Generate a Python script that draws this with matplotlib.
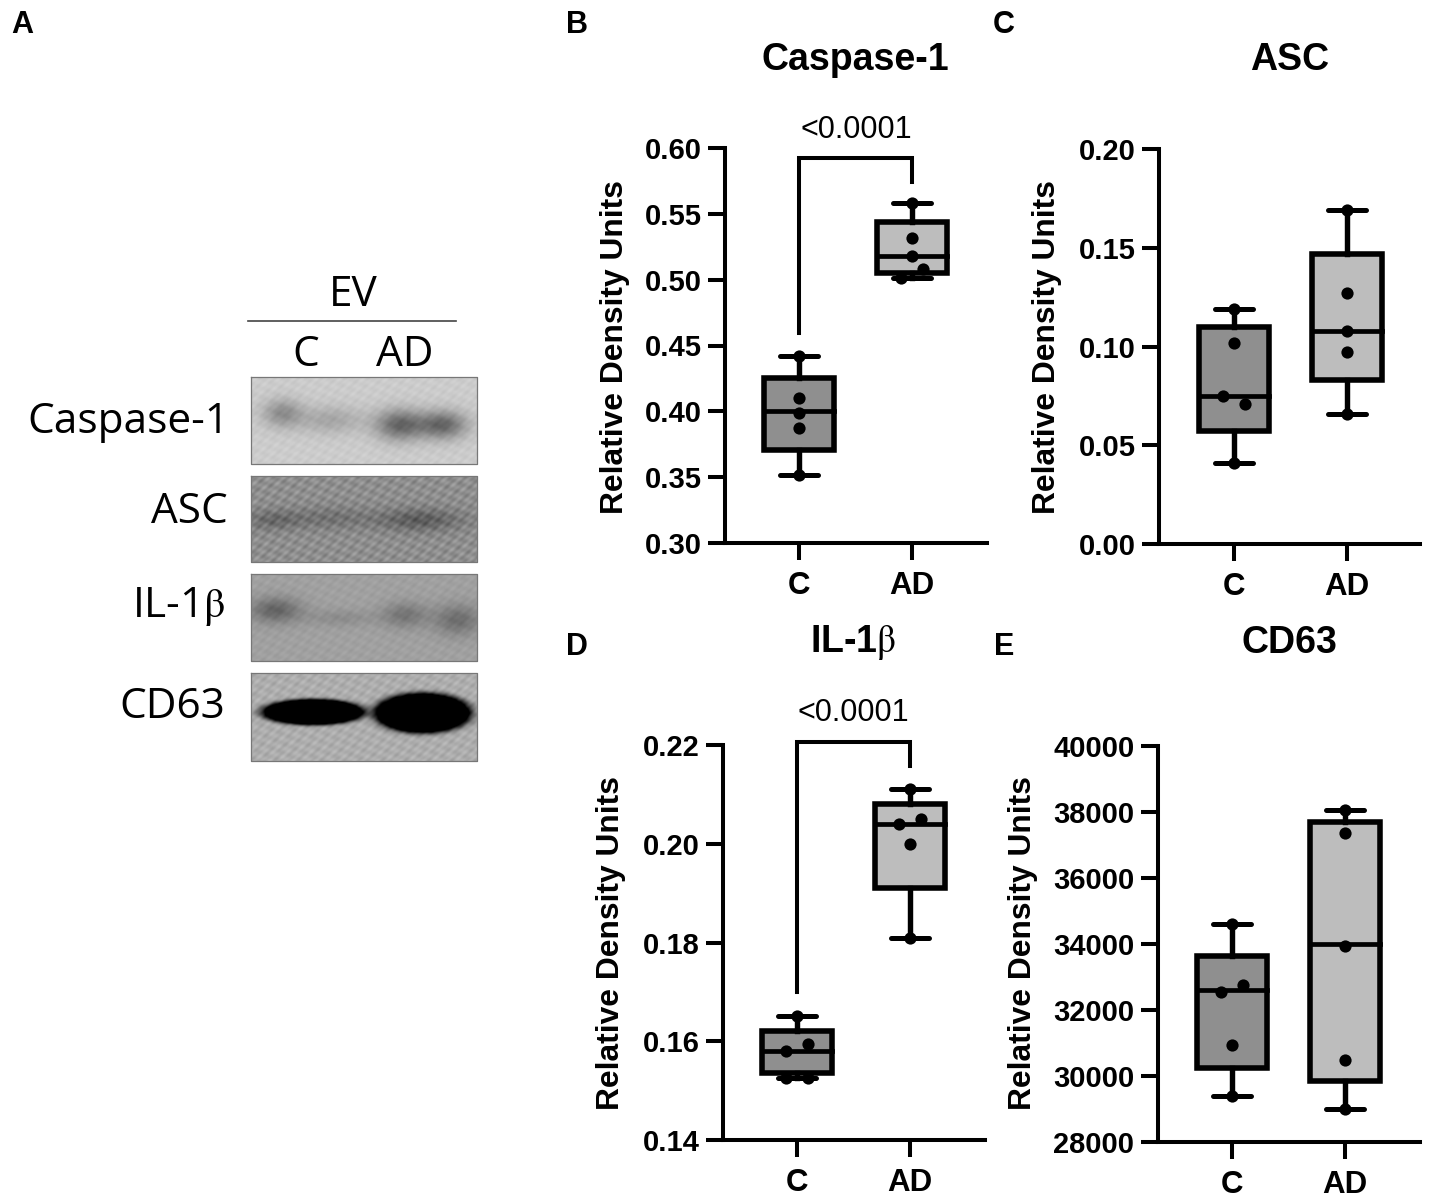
import numpy as np
import matplotlib
matplotlib.use("Agg")
import matplotlib.pyplot as plt

plt.rcParams['font.family'] = ['Liberation Sans', 'DejaVu Sans']
plt.rcParams['mathtext.fontset'] = 'stix'
plt.rcParams['mathtext.default'] = 'rm'

W, H = 1429, 1198

groups = ["C", "AD"]

# box values: low whisker, q1, median, q3, high whisker
caspase_c_box = [0.352, 0.371, 0.400, 0.425, 0.442]
caspase_ad_box = [0.501, 0.505, 0.518, 0.544, 0.558]
asc_c_box = [0.041, 0.057, 0.075, 0.110, 0.119]
asc_ad_box = [0.066, 0.083, 0.108, 0.147, 0.169]
il1b_c_box = [0.1525, 0.1535, 0.158, 0.162, 0.1652]
il1b_ad_box = [0.181, 0.191, 0.204, 0.208, 0.211]
cd63_c_box = [29400, 30250, 32600, 33650, 34600]
cd63_ad_box = [29000, 29850, 34000, 37700, 38050]

# single samples
caspase_c_pts = [0.352, 0.387, 0.399, 0.410, 0.442]
caspase_ad_pts = [0.501, 0.508, 0.518, 0.532, 0.558]
asc_c_pts = [0.041, 0.071, 0.075, 0.102, 0.119]
asc_ad_pts = [0.066, 0.097, 0.108, 0.127, 0.169]
il1b_c_pts = [0.1525, 0.1525, 0.158, 0.1595, 0.1652]
il1b_ad_pts = [0.181, 0.200, 0.204, 0.205, 0.211]
cd63_c_pts = [29400, 30950, 32550, 32750, 34600]
cd63_ad_pts = [29000, 30500, 33950, 37350, 38050]

# sideways shift of the samples, in box spacings
caspase_c_shift = [0, 0, 0, 0, 0]
caspase_ad_shift = [-0.1, 0.1, 0, 0, 0]
asc_c_shift = [0, 0.1, -0.1, 0, 0]
asc_ad_shift = [0, 0, 0, 0, 0]
il1b_c_shift = [-0.1, 0.1, -0.1, 0.1, 0]
il1b_ad_shift = [0, 0, -0.1, 0.1, 0]
cd63_c_shift = [0, 0, -0.1, 0.1, 0]
cd63_ad_shift = [0, 0, 0, 0, 0]

caspase_ticks = [0.30, 0.35, 0.40, 0.45, 0.50, 0.55, 0.60]
asc_ticks = [0.00, 0.05, 0.10, 0.15, 0.20]
il1b_ticks = [0.14, 0.16, 0.18, 0.20, 0.22]
cd63_ticks = [28000, 30000, 32000, 34000, 36000, 38000, 40000]


def px_axes(left, top, right, bottom):
    return fig.add_axes([left / W, 1 - bottom / H, (right - left) / W, (bottom - top) / H])


def draw_panel(rect, pos_c, pos_ad, ticks, fmt, box_c, box_ad, pts_c, pts_ad, shift_c, shift_ad):
    ax = px_axes(*rect)
    step = pos_ad - pos_c
    ax.set_xlim(1 - (pos_c - rect[0]) / step, 2 + (rect[2] - pos_ad) / step)
    ax.set_ylim(ticks[0], ticks[-1])
    stats = []
    for b in (box_c, box_ad):
        stats.append({'whislo': b[0], 'q1': b[1], 'med': b[2], 'q3': b[3], 'whishi': b[4], 'fliers': []})
    parts = ax.bxp(stats, positions=[1, 2], widths=0.625, capwidths=0.34, patch_artist=True,
                   showfliers=False,
                   boxprops=dict(linewidth=4.0, edgecolor='black'),
                   medianprops=dict(color='black', linewidth=3.4, solid_capstyle='projecting'),
                   whiskerprops=dict(color='black', linewidth=3.9),
                   capprops=dict(color='black', linewidth=3.6, solid_capstyle='round'))
    parts['boxes'][0].set_facecolor('#8f8f8f')
    parts['boxes'][1].set_facecolor('#bdbdbd')
    for k, (pts, sh) in enumerate([(pts_c, shift_c), (pts_ad, shift_ad)]):
        ax.plot([k + 1 + s for s in sh], pts, 'o', color='black', ms=8.8, mew=0, zorder=5, clip_on=False)
    for s in ['top', 'right']:
        ax.spines[s].set_visible(False)
    for s in ['left', 'bottom']:
        ax.spines[s].set_linewidth(2.9)
    ax.set_xticks([1, 2], groups)
    ax.set_yticks(ticks, [fmt.format(t) for t in ticks])
    ax.tick_params(axis='y', length=12, width=2.9, pad=5, labelsize=21)
    ax.tick_params(axis='x', length=12, width=2.9, pad=8.5, labelsize=22.5)
    for lab in ax.get_xticklabels() + ax.get_yticklabels():
        lab.set_fontweight('bold')
    return ax


def bracket(ax, y_left, y_top, y_right):
    ax.plot([1, 1, 2, 2], [y_left, y_top, y_top, y_right], color='black', lw=2.9,
            solid_joinstyle='miter', clip_on=False)


fig = plt.figure(figsize=(W / 100, H / 100), dpi=100, facecolor='white')

ax_b = draw_panel((725, 148, 987, 543), 799, 912, caspase_ticks, "{:.2f}", caspase_c_box, caspase_ad_box,
                  caspase_c_pts, caspase_ad_pts, caspase_c_shift, caspase_ad_shift)
ax_c = draw_panel((1159, 149, 1420, 544), 1234, 1347, asc_ticks, "{:.2f}", asc_c_box, asc_ad_box,
                  asc_c_pts, asc_ad_pts, asc_c_shift, asc_ad_shift)
ax_d = draw_panel((723, 745, 985, 1140), 797, 910, il1b_ticks, "{:.2f}", il1b_c_box, il1b_ad_box,
                  il1b_c_pts, il1b_ad_pts, il1b_c_shift, il1b_ad_shift)
ax_e = draw_panel((1158, 746, 1420, 1142), 1232, 1345, cd63_ticks, "{:.0f}", cd63_c_box, cd63_ad_box,
                  cd63_c_pts, cd63_ad_pts, cd63_c_shift, cd63_ad_shift)
bracket(ax_b, 0.4595, 0.5924, 0.574)
bracket(ax_d, 0.170, 0.2206, 0.2157)

# overlay in image pixels for labels and blots
ov = fig.add_axes([0, 0, 1, 1], zorder=-1)
ov.set_xlim(0, W)
ov.set_ylim(H, 0)
ov.axis('off')

for txt, x, y in [("A", 22, 25), ("B", 577, 25), ("C", 1004, 25), ("D", 577, 647), ("E", 1004, 647)]:
    ov.text(x, y, txt, fontsize=22, fontweight='bold', ha='center', va='center')
for txt, x, y in [("Caspase-1", 855, 60), ("ASC", 1290, 60), ("IL-1$\\beta$", 853, 643), ("CD63", 1289, 643)]:
    ov.text(x, y, txt, fontsize=27, fontweight='bold', ha='center', va='center')
for x, y in [(615, 347), (1047, 347), (611, 943), (1023, 943)]:
    ov.text(x, y, "Relative Density Units", fontsize=22.9, fontweight='bold', rotation=90,
            ha='center', va='center')
for x, y in [(856, 130), (853, 713)]:
    ov.text(x, y, "<0.0001", fontsize=22, ha='center', va='center')

# western blot strips: background grey, texture strength, sharpness, bands (x, y, sx, sy, darkness)
strip_rects = [(251, 377, 477, 464), (251, 476, 477, 562), (251, 574, 477, 661), (251, 673, 477, 761)]
strip_bg = [0.80, 0.56, 0.63, 0.68]
strip_tex = [0.010, 0.030, 0.010, 0.020]
strip_sharp = [1, 1, 1, 3]
strip_bands = [
    [(282, 413, 14, 10, 0.24), (330, 420, 24, 10, 0.15), (400, 425, 17, 11, 0.40), (443, 425, 17, 10, 0.40)],
    [(272, 520, 20, 7, 0.14), (330, 518, 30, 8, 0.11), (420, 520, 30, 8, 0.20)],
    [(275, 610, 18, 9, 0.24), (340, 618, 25, 6, 0.08), (405, 615, 16, 9, 0.17), (458, 620, 17, 11, 0.20)],
    [(313, 712, 35.5, 9, 1.6), (423, 713, 33.5, 14, 1.6)],
]
for rect, bg, tex, sharp, bands in zip(strip_rects, strip_bg, strip_tex, strip_sharp, strip_bands):
    xs = np.arange(rect[0], rect[2] + 1)
    ys = np.arange(rect[1], rect[3] + 1)
    xx, yy = np.meshgrid(xs, ys)
    img = bg + tex * (np.sin(xx * 0.53 + yy * 0.31) + np.sin(xx * 0.29 - yy * 0.67) + np.sin(xx * 0.81 + yy * 0.97))
    for bx, by, sx, sy, d in bands:
        img = img - d * np.exp(-(((xx - bx) / sx) ** 2 / 2 + ((yy - by) / sy) ** 2 / 2) ** sharp)
    ov.imshow(np.clip(img, 0, 1), cmap='gray', vmin=0, vmax=1, extent=(rect[0], rect[2], rect[3], rect[1]),
              aspect='auto', interpolation='bilinear')
    ov.plot([rect[0], rect[2], rect[2], rect[0], rect[0]], [rect[1], rect[1], rect[3], rect[3], rect[1]],
            color='#777777', lw=0.9)
ov.set_xlim(0, W)
ov.set_ylim(H, 0)

ov.plot([248, 456], [321, 321], color='#444444', lw=1.2)
blot_font = ['Open Sans', 'DejaVu Sans']
for txt, x, y in [("EV", 353, 295), ("C", 306, 355), ("AD", 405, 355)]:
    ov.text(x, y, txt, fontsize=30.5, family=blot_font, ha='center', va='center')
for txt, x, y in [("Caspase-1", 229, 422), ("ASC", 228, 512), ("CD63", 225, 707)]:
    ov.text(x, y, txt, fontsize=30.5, family=blot_font, ha='right', va='center')
ov.text(226, 606, "IL-1$\\beta$", fontsize=30.5, family=blot_font, ha='right', va='center')

fig.savefig("out.png", dpi=100)
